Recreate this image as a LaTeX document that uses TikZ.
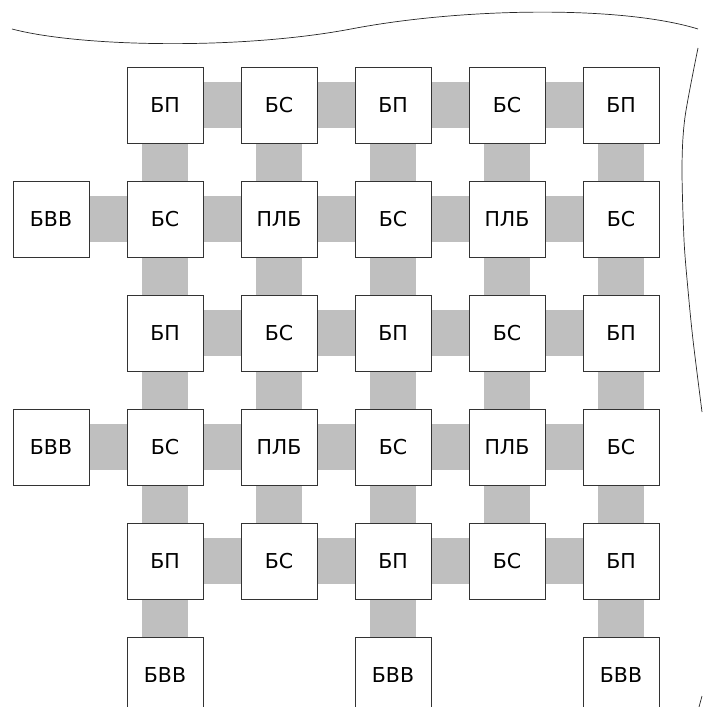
\documentclass[tikz,border=0pt]{standalone}
\usepackage{fontspec}
\setmainfont{DejaVu Sans}
\usetikzlibrary{positioning,backgrounds}

\begin{document}
\begin{tikzpicture}[
  x=0.03cm, y=0.03cm,
  node distance=11.4mm and 11.4mm,
  block/.style={rectangle, draw=black!80, fill=white, line width=0.7pt,
                minimum width=22.8mm, minimum height=22.8mm,
                inner sep=0pt, outer sep=0pt,
                font=\fontsize{17.5}{20}\selectfont},
  link/.style={line width=13.8mm, black!25},
  edge/.style={line width=0.6pt, black!85}
]
\useasboundingbox (0,0) rectangle (702,-707);

% row 1
\node[block] (b11) at (165,-105) {БП};
\node[block, right=of b11] (b12) {БС};
\node[block, right=of b12] (b13) {БП};
\node[block, right=of b13] (b14) {БС};
\node[block, right=of b14] (b15) {БП};
% row 2
\node[block, below=of b11] (b21) {БС};
\node[block, right=of b21] (b22) {ПЛБ};
\node[block, right=of b22] (b23) {БС};
\node[block, right=of b23] (b24) {ПЛБ};
\node[block, right=of b24] (b25) {БС};
\node[block, left=of b21] (w2) {БВВ};
% row 3
\node[block, below=of b21] (b31) {БП};
\node[block, right=of b31] (b32) {БС};
\node[block, right=of b32] (b33) {БП};
\node[block, right=of b33] (b34) {БС};
\node[block, right=of b34] (b35) {БП};
% row 4
\node[block, below=of b31] (b41) {БС};
\node[block, right=of b41] (b42) {ПЛБ};
\node[block, right=of b42] (b43) {БС};
\node[block, right=of b43] (b44) {ПЛБ};
\node[block, right=of b44] (b45) {БС};
\node[block, left=of b41] (w4) {БВВ};
% row 5
\node[block, below=of b41] (b51) {БП};
\node[block, right=of b51] (b52) {БС};
\node[block, right=of b52] (b53) {БП};
\node[block, right=of b53] (b54) {БС};
\node[block, right=of b54] (b55) {БП};
% bottom inputs
\node[block, below=of b51] (s1) {БВВ};
\node[block, below=of b53] (s3) {БВВ};
\node[block, below=of b55] (s5) {БВВ};

% grey links behind the blocks
\begin{scope}[on background layer]
\draw[link] (b11) -- (b12) -- (b13) -- (b14) -- (b15);
\draw[link] (w2) -- (b21) -- (b22) -- (b23) -- (b24) -- (b25);
\draw[link] (b31) -- (b32) -- (b33) -- (b34) -- (b35);
\draw[link] (w4) -- (b41) -- (b42) -- (b43) -- (b44) -- (b45);
\draw[link] (b51) -- (b52) -- (b53) -- (b54) -- (b55);
\draw[link] (b11) -- (b21) -- (b31) -- (b41) -- (b51) -- (s1);
\draw[link] (b12) -- (b22) -- (b32) -- (b42) -- (b52);
\draw[link] (b13) -- (b23) -- (b33) -- (b43) -- (b53) -- (s3);
\draw[link] (b14) -- (b24) -- (b34) -- (b44) -- (b54);
\draw[link] (b15) -- (b25) -- (b35) -- (b45) -- (b55) -- (s5);
\end{scope}

% break lines
\draw[edge] (12,-29) .. controls (80,-47) and (240,-50) .. (351,-29)
  .. controls (460,-8) and (620,-5) .. (698,-29);
\draw[edge] plot[smooth] coordinates {(698,-48) (685,-117) (682,-167)
  (684,-240) (688,-290) (693,-340) (702,-412)};
\draw[edge] (699,-707) -- (702,-696);
\end{tikzpicture}
\end{document}
